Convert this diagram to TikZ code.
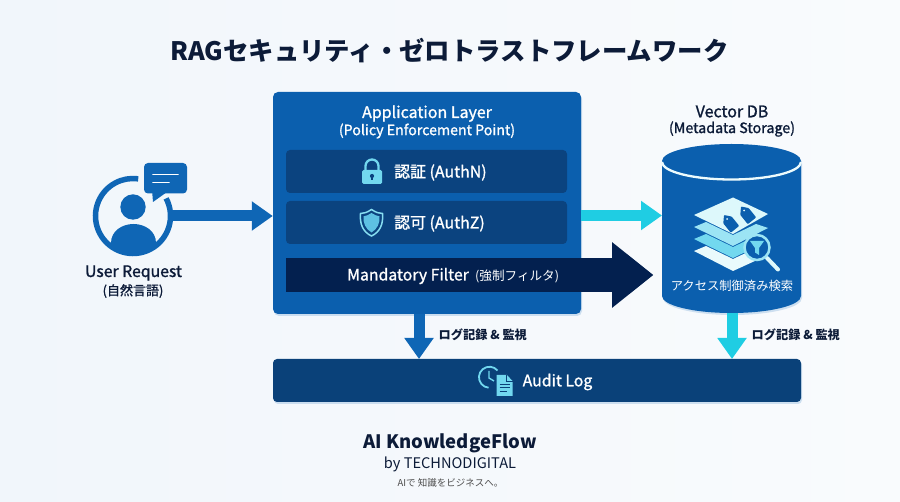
\documentclass[tikz,border=0pt]{standalone}
\usepackage{fontspec}
\usepackage{xcolor}
\setmainfont{Noto Sans CJK JP}
\newfontfamily\medfont[FakeBold=1.2]{Noto Sans CJK JP}
\usetikzlibrary{arrows.meta,shadows}

\definecolor{appblue}{HTML}{0B5FAE}
\definecolor{rowblue}{HTML}{0B437F}
\definecolor{navy}{HTML}{03204F}
\definecolor{auditblue}{HTML}{0A4179}
\definecolor{flowblue}{HTML}{0F66B5}
\definecolor{flowcyan}{HTML}{1FCDE3}
\definecolor{iconcyan}{HTML}{72D8EF}
\definecolor{inktext}{HTML}{0C1B38}
\definecolor{bgleft}{HTML}{F1F6FB}
\definecolor{bgright}{HTML}{F9FBFD}

\newcommand{\fsz}[1]{\fontsize{#1}{#1}\selectfont}

\tikzset{
    softshadow/.style={drop shadow={shadow xshift=1pt,shadow yshift=-2pt,opacity=.18,fill=flowblue}},
    rowbox/.style={fill=rowblue,rounded corners=4pt,minimum width=281pt,minimum height=43pt,inner sep=0pt},
    whitetext/.style={text=white,inner sep=0pt},
    inktextnode/.style={text=inktext,inner sep=0pt,align=center},
    fatarrow/.style={line width=11pt,-{Triangle[length=21pt,width=28pt]}},
}

\begin{document}
\begin{tikzpicture}[x=1pt,y=-1pt]
        \useasboundingbox (0,0) rectangle (900,502);
        \shade[left color=bgleft,right color=bgright] (0,0) rectangle (900,502);

        \node[text=inktext,inner sep=0pt,font=\bfseries\fsz{25.4}] (title) at (449.5,51) {RAGセキュリティ・ゼロトラストフレームワーク};

        \node[fill=appblue,rounded corners=5pt,minimum width=308pt,minimum height=222pt,inner sep=0pt,softshadow] (appbox) at (427,203) {};
        \node[fill=auditblue,rounded corners=4pt,minimum width=528pt,minimum height=43pt,inner sep=0pt,softshadow] (auditbox) at (537,380.5) {};
        \node[minimum width=139pt,minimum height=169pt,inner sep=0pt,outer sep=0pt] (vectordb) at (731.5,228.5) {};
        \fill[appblue,softshadow] (vectordb.west |- 0,161) -- (vectordb.west |- 0,296) arc[start angle=180,end angle=0,x radius=69.5,y radius=17] -- (vectordb.east |- 0,161) arc[start angle=0,end angle=-180,x radius=69.5,y radius=17] -- cycle;
        \draw[white!92!flowcyan,line width=2.3pt] (vectordb.west |- 0,162) arc[start angle=180,end angle=0,x radius=69.5,y radius=17.5];

        \node[circle,minimum size=78pt,inner sep=0pt] (usericon) at (133,216) {};
        \coordinate (dbin) at (662,215.5);
        \coordinate (appout) at (419,314);
        \coordinate (auditappin) at (419,359);
        \coordinate (dbout) at (732,313);
        \coordinate (auditdbin) at (732,359);
        \coordinate (filtertip) at (653.5,275);

        % user icon
        \draw[flowblue,line width=5.5pt] ([shift={(-28:37.5)}]usericon.center) arc[start angle=-28,end angle=278,radius=37.5];
        \fill[flowblue] (133,207) circle (12.7);
        \begin{scope}
            \clip (133,216) circle (37);
            \fill[flowblue] (111,256) -- (111,243) .. controls (111,231) and (122,224) .. (133.5,224) .. controls (145,224) and (156,231) .. (156,243) -- (156,256) -- cycle;
        \end{scope}
        \fill[flowblue,rounded corners=4pt] (144,163) rectangle (187,193.5);
        \fill[flowblue] (152,190) -- (153,202) -- (167,192) -- cycle;
        \draw[white,line width=1.6pt,line cap=round] (153,174.5) -- (178,174.5);
        \draw[white,line width=1.6pt,line cap=round] (153,182.5) -- (169,182.5);

        \node[inktextnode,font=\medfont\fsz{15.8}] (userlabel) at (133.5,273) {User Request};
        \node[inktextnode,font=\medfont\fsz{13}] (usernote) at (133,291) {(自然言語)};

        % arrows
        \draw[fatarrow,flowblue] (usericon.east) -- (appbox.west |- usericon.east);
        \draw[fatarrow,flowcyan] (appbox.east |- dbin) -- (dbin);
        \draw[fatarrow,flowblue] (appout) -- (auditappin);
        \draw[fatarrow,flowcyan] (dbout) -- (auditdbin);

        % application layer
        \node[whitetext,font=\medfont\fsz{16}] (applabel) at (427,113.5) {Application Layer};
        \node[whitetext,font=\medfont\fsz{14.2}] (appnote) at (427,131) {(Policy Enforcement Point)};

        \node[rowbox] (authn) at (426.5,171.5) {};
        \node[rowbox] (authz) at (426.5,222.5) {};
        \node[whitetext,font=\medfont\fsz{15.9},anchor=west] (authnlabel) at (394,172.5) {認証 (AuthN)};
        \node[whitetext,font=\medfont\fsz{15.9},anchor=west] (authzlabel) at (394,223.5) {認可 (AuthZ)};

        \draw[iconcyan,line width=2.3pt] (365.5,172) -- (365.5,166) arc[start angle=180,end angle=360,radius=6.5] -- (378.5,172);
        \fill[iconcyan,rounded corners=1.5pt] (362,170) rectangle (382,184);
        \fill[rowblue] (372,176) circle (2.1);
        \fill[rowblue] (371.1,176) rectangle (372.9,180.5);

        \draw[iconcyan!85!white,line width=1.5pt,fill=rowblue] (371.5,209.5) .. controls (376,212.5) and (379,213.5) .. (382.5,213.5) .. controls (383.5,224) and (380,232) .. (371.5,236) .. controls (363,232) and (359.5,224) .. (360.5,213.5) .. controls (364,213.5) and (367,212.5) .. (371.5,209.5) -- cycle;
        \fill[iconcyan!80!flowblue] (371.5,213) .. controls (374.5,215) and (377,216) .. (379.5,216.3) .. controls (380,223) and (377.5,229) .. (371.5,232.5) .. controls (365.5,229) and (363,223) .. (363.5,216.3) .. controls (366,216) and (368.5,215) .. (371.5,213) -- cycle;

        % filter
        \node[fill=navy,minimum width=326pt,minimum height=34pt,inner sep=0pt] (filterbar) at (449,275) {};
        \draw[navy,line width=34pt,-{Triangle[length=41.5pt,width=63pt]}] (filterbar.east) -- (filtertip);
        \node[whitetext,font=\medfont\fsz{15.8},anchor=west] (filterlabel) at (347,276) {Mandatory Filter};
        \node[whitetext,font=\fsz{12.6},anchor=west] (filternote) at (475,276) {(強制フィルタ)};

        % vector db
        \node[inktextnode,font=\medfont\fsz{16}] (dblabel) at (732,111.5) {Vector DB};
        \node[inktextnode,font=\medfont\fsz{14.3}] (dbnote) at (732,129) {(Metadata Storage)};

        \fill[white!90!flowcyan] (694,251) -- (706,246) -- (733,259) -- (752,250) -- (768,255) -- (733,271) -- cycle;
        \fill[iconcyan] (694,239) -- (706,234) -- (733,247) -- (756,236) -- (768,241) -- (733,258) -- cycle;
        \fill[iconcyan!70!white] (694,227) -- (706,222) -- (733,235) -- (756,224) -- (768,228) -- (733,246) -- cycle;
        \fill[white!85!flowcyan] (694,215) -- (733,197.5) -- (768,214) -- (733,234) -- cycle;
        \fill[appblue,rounded corners=.8pt] (724,215) -- (731.7,216.6) -- (739.2,225.9) -- (730.8,232.7) -- (723.3,223.4) -- cycle;
        \fill[appblue,rounded corners=.8pt] (741,206.5) -- (748.7,208.1) -- (756.2,217.4) -- (747.8,224.2) -- (740.3,214.9) -- cycle;
        \fill[white!85!flowcyan] (727,219) circle (1);
        \fill[white!85!flowcyan] (744,210.5) circle (1);

        \draw[white!85!flowcyan,line width=4pt,line cap=round] (767,258) -- (778,269.5);
        \draw[iconcyan!70!white,line width=2.5pt,fill=appblue] (757,247.5) circle (12.5);
        \fill[iconcyan] (750,241) -- (764,241) -- (759,248) -- (759,255) -- (755,252.5) -- (755,248) -- cycle;

        \node[whitetext,font=\fsz{12.3}] (dbsearch) at (732,285.5) {アクセス制御済み検索};

        % log labels
        \node[text=inktext,inner sep=0pt,font=\bfseries\fsz{12.2},anchor=west] (applog) at (438.5,335) {ログ記録 \& 監視};
        \node[text=inktext,inner sep=0pt,font=\bfseries\fsz{12.2},anchor=west] (dblog) at (751.5,335) {ログ記録 \& 監視};

        % audit log
        \draw[iconcyan,line width=1.8pt] (497.5,370.5) arc[start angle=-40,end angle=-265,radius=10.5];
        \draw[iconcyan,line width=1.4pt] (489,371) -- (489,378) -- (494,381);
        \fill[auditblue] (494.5,372.5) rectangle (514,398);
        \fill[iconcyan] (496.5,375) -- (507,375) -- (512.5,381) -- (512.5,396) -- (496.5,396) -- cycle;
        \draw[auditblue,line width=.8pt] (506.5,375) -- (506.5,381.5) -- (512.5,381.5);
        \draw[auditblue,line width=1pt] (499.5,384.5) -- (510,384.5) (499.5,388) -- (510,388) (499.5,391.5) -- (507,391.5);
        \node[whitetext,font=\medfont\fsz{15.8},anchor=west] (auditlabel) at (522.5,382) {Audit Log};

        % footer
        \node[inktextnode,font=\bfseries\fsz{18.5}] (brand) at (450,443) {AI KnowledgeFlow};
        \node[inktextnode,font=\fsz{14.6}] (brandby) at (450,464) {by TECHNODIGITAL};
        \node[text=black!70,inner sep=0pt,font=\fsz{9.5}] (brandslogan) at (450.5,483) {AIで 知識をビジネスへ。};
    \end{tikzpicture}
\end{document}
